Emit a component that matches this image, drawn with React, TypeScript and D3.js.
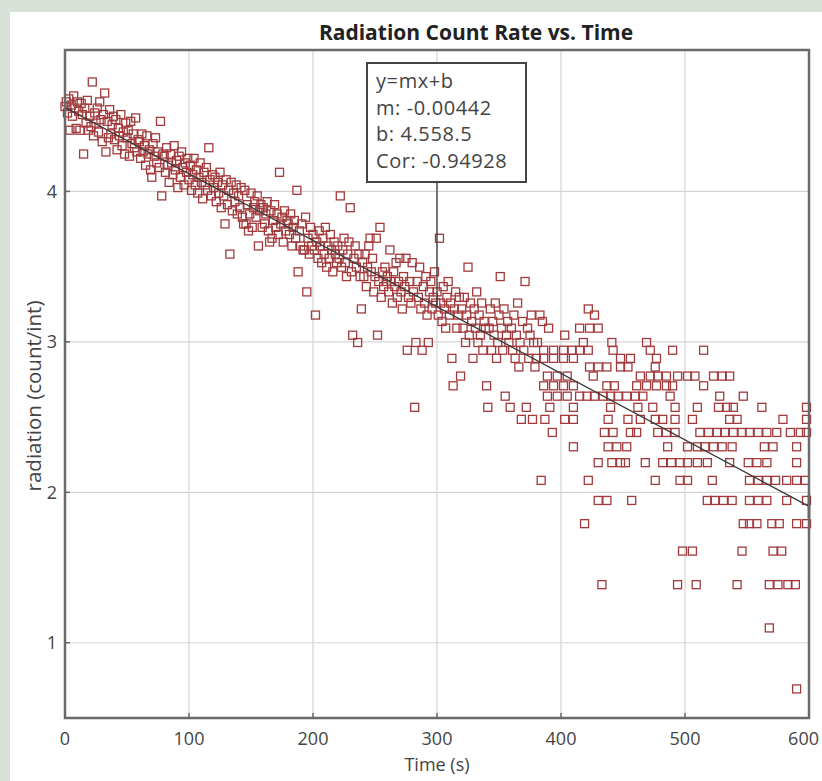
import React from "react";
import * as d3 from "d3";

// counts per interval, one per second from t = 0 to 379
const earlyCounts = [
  96, 99, 92, 101, 82, 97, 90, 103, 95, 83, 99, 93, 82, 98, 91, 70, 95, 86, 100, 82,
  90, 84, 113, 79, 92, 86, 95, 81, 99, 88, 76, 91, 105, 71, 87, 78, 94, 80, 85, 90,
  77, 88, 72, 83, 79, 91, 74, 81, 70, 86, 78, 82, 69, 87, 75, 80, 73, 89, 71, 77,
  76, 68, 80, 71, 74, 65, 79, 70, 72, 63, 60, 75, 69, 78, 66, 71, 64, 87, 53, 70,
  69, 62, 73, 65, 58, 70, 66, 61, 74, 63, 67, 56, 69, 60, 71, 64, 57, 66, 62, 68,
  59, 65, 55, 61, 68, 57, 63, 54, 60, 66, 58, 52, 62, 57, 64, 55, 73, 59, 53, 61,
  56, 60, 51, 58, 54, 62, 49, 57, 53, 44, 59, 50, 55, 36, 58, 48, 54, 51, 57, 47,
  53, 49, 56, 46, 44, 55, 44, 50, 42, 47, 54, 43, 49, 51, 46, 53, 38, 48, 50, 43,
  49, 44, 47, 51, 42, 39, 48, 40, 45, 50, 43, 47, 41, 62, 44, 46, 39, 48, 42, 45,
  44, 41, 47, 38, 43, 45, 40, 55, 32, 42, 38, 44, 37, 37, 46, 28, 40, 36, 43, 38,
  41, 37, 24, 39, 35, 42, 38, 34, 40, 36, 43, 33, 38, 35, 41, 37, 32, 39, 36, 34,
  38, 35, 53, 33, 37, 40, 34, 31, 36, 39, 49, 32, 21, 35, 38, 33, 20, 36, 31, 25,
  34, 31, 36, 29, 33, 38, 40, 32, 35, 28, 31, 40, 21, 30, 43, 27, 32, 29, 33, 30,
  31, 28, 37, 30, 26, 32, 29, 34, 27, 30, 35, 28, 25, 31, 29, 35, 19, 27, 30, 26,
  34, 28, 13, 20, 30, 27, 33, 25, 19, 29, 26, 31, 24, 20, 28, 30, 25, 27, 32, 26,
  28, 24, 40, 26, 23, 29, 25, 22, 27, 30, 24, 26, 18, 15, 25, 28, 22, 24, 27, 16,
  25, 22, 27, 20, 24, 33, 21, 26, 23, 18, 25, 22, 28, 20, 24, 21, 26, 19, 23, 22,
  15, 13, 22, 25, 19, 23, 21, 26, 18, 20, 24, 31, 22, 19, 25, 14, 21, 23, 20, 13,
  22, 19, 24, 18, 21, 26, 17, 20, 12, 23, 19, 30, 13, 22, 18, 21, 24, 12, 20, 17,
];

// later part: low counts fall on discrete levels, listed level by level
const tailLevels = [2, 3, 4, 5, 6, 7, 8, 9, 10, 11, 12, 13, 14, 15, 16, 17, 18, 19, 20, 21, 22, 23, 24, 25];
const tailTimes = [
  [590],
  [568],
  [433, 494, 509, 542, 568, 575, 583, 589],
  [498, 506, 546, 571, 578],
  [419, 547, 552, 558, 570, 576, 590, 598],
  [430, 437, 457, 518, 524, 531, 538, 552, 559, 566, 582, 598],
  [384, 422, 476, 496, 502, 522, 552, 559, 566, 573, 582, 590, 597],
  [430, 441, 448, 452, 468, 482, 489, 496, 502, 510, 518, 536, 551, 558, 566, 590],
  [410, 438, 445, 453, 486, 502, 510, 516, 523, 530, 538, 564, 571, 590],
  [393, 435, 442, 456, 461, 478, 485, 492, 512, 519, 526, 532, 539, 546, 552, 559, 566, 574, 585, 593, 598],
  [387, 403, 410, 438, 454, 464, 476, 482, 492, 506, 536, 542, 579, 598],
  [391, 410, 440, 462, 474, 492, 510, 527, 534, 539, 562, 598],
  [389, 397, 405, 415, 421, 427, 434, 440, 446, 453, 460, 466, 488, 528, 547],
  [386, 394, 402, 410, 437, 443, 461, 469, 477, 485, 490, 515],
  [389, 397, 405, 426, 464, 472, 478, 485, 494, 502, 508, 523, 530, 536],
  [423, 430, 437, 448, 454, 476],
  [380, 386, 394, 402, 410, 448, 456, 477],
  [386, 394, 402, 409, 415, 422, 442, 472, 490, 515],
  [381, 418, 441, 469],
  [403],
  [390, 415, 423, 430],
  [385],
  [383, 427],
  [422],
];

const xTicks = [0, 100, 200, 300, 400, 500, 600];
const yTicks = [1, 2, 3, 4];
const fitSlope = -0.00442;
const fitIntercept = 4.5585;
const fitLines = ["y=mx+b", "m: -0.00442", "b: 4.558.5", "Cor: -0.94928"];

const W = 822;
const H = 781;
const margin = { top: 50, right: 13, bottom: 63, left: 65 };
const font = "'Open Sans', 'Noto Sans', sans-serif";

export default function App() {
  const x = d3.scaleLinear().domain([0, 600]).range([margin.left, W - margin.right]);
  const y = d3.scaleLinear().domain([0.5, 4.94]).range([H - margin.bottom, margin.top]);

  const points: { t: number; v: number }[] = [];
  earlyCounts.forEach((c, i) => points.push({ t: i, v: Math.log(c) }));
  tailLevels.forEach((c, k) => tailTimes[k].forEach((t) => points.push({ t, v: Math.log(c) })));

  const fit = (t: number) => fitIntercept + fitSlope * t;
  const fitPath = d3.line<number>().x((t) => x(t)).y((t) => y(fit(t)))([0, 600]) || "";

  const [x0, x1] = x.range();
  const [yb, yt] = y.range();
  const boxX = 367, boxY = 63, boxW = 159, boxH = 119;
  const sq = 8;

  return (
    <svg width={W} height={H} style={{ position: "fixed", left: 0, top: 0 }} fontFamily={font}>
      <rect width={W} height={H} fill="#d8e1d7" />
      <rect x={10} y={12} width={W - 10} height={H - 12} fill="#ffffff" />

      <text x={476} y={40} textAnchor="middle" fontSize={21} fontWeight="bold" fill="#222">
        Radiation Count Rate vs. Time
      </text>

      {/* grid */}
      {xTicks.slice(1, -1).map((t) => (
        <line key={"gx" + t} x1={x(t)} x2={x(t)} y1={yt} y2={yb} stroke="#d4d4d4" strokeWidth={1.2} />
      ))}
      {yTicks.map((v) => (
        <line key={"gy" + v} x1={x0} x2={x1} y1={y(v)} y2={y(v)} stroke="#d4d4d4" strokeWidth={1.2} />
      ))}

      {/* markers */}
      <g fill="none" stroke="#a23a3c" strokeWidth={1.3}>
        {points.map((p, i) => (
          <rect key={i} x={x(p.t) - sq / 2} y={y(p.v) - sq / 2} width={sq} height={sq} />
        ))}
      </g>

      {/* fit line */}
      <path d={fitPath} stroke="#3a3a3a" strokeWidth={1.3} fill="none" />
      <line x1={x(600)} x2={x(600)} y1={y(fit(600)) - 12} y2={y(fit(600)) + 12} stroke="#222" strokeWidth={2.5} />
      <line x1={x(300)} x2={x(300)} y1={boxY + boxH} y2={y(fit(300))} stroke="#3a3a3a" strokeWidth={1.3} />

      {/* frame */}
      <rect x={x0} y={yt} width={x1 - x0} height={yb - yt} fill="none" stroke="#6a6a6a" strokeWidth={2.5} />
      {yTicks.map((v) => (
        <line key={"ty" + v} x1={x0} x2={x0 + 5} y1={y(v)} y2={y(v)} stroke="#666" strokeWidth={1.5} />
      ))}
      {xTicks.map((t) => (
        <line key={"tx" + t} x1={x(t)} x2={x(t)} y1={yb} y2={yb - 5} stroke="#666" strokeWidth={1.5} />
      ))}

      {/* tick labels */}
      {xTicks.map((t, i) => (
        <text
          key={"lx" + t}
          x={i === xTicks.length - 1 ? x(t) + 10 : x(t)}
          y={yb + 27}
          textAnchor={i === xTicks.length - 1 ? "end" : "middle"}
          fontSize={18}
          fill="#444"
        >
          {t}
        </text>
      ))}
      {yTicks.map((v) => (
        <text key={"ly" + v} x={x0 - 8} y={y(v)} dy="0.35em" textAnchor="end" fontSize={18} fill="#444">
          {v}
        </text>
      ))}

      <text x={(x0 + x1) / 2} y={H - 10} textAnchor="middle" fontSize={18} fill="#444">
        Time (s)
      </text>
      <text
        transform={`translate(34, 396) rotate(-90)`}
        textAnchor="middle"
        dy="0.35em"
        fontSize={20.5}
        fill="#444"
      >
        radiation (count/int)
      </text>

      {/* fit box */}
      <rect x={boxX} y={boxY} width={boxW} height={boxH} fill="#fff" stroke="#444" strokeWidth={2} />
      {fitLines.map((s, i) => (
        <text key={s} x={boxX + 9} y={boxY + 25 + i * 26.7} fontSize={20} letterSpacing={0.6} fill="#444">
          {s}
        </text>
      ))}
    </svg>
  );
}
